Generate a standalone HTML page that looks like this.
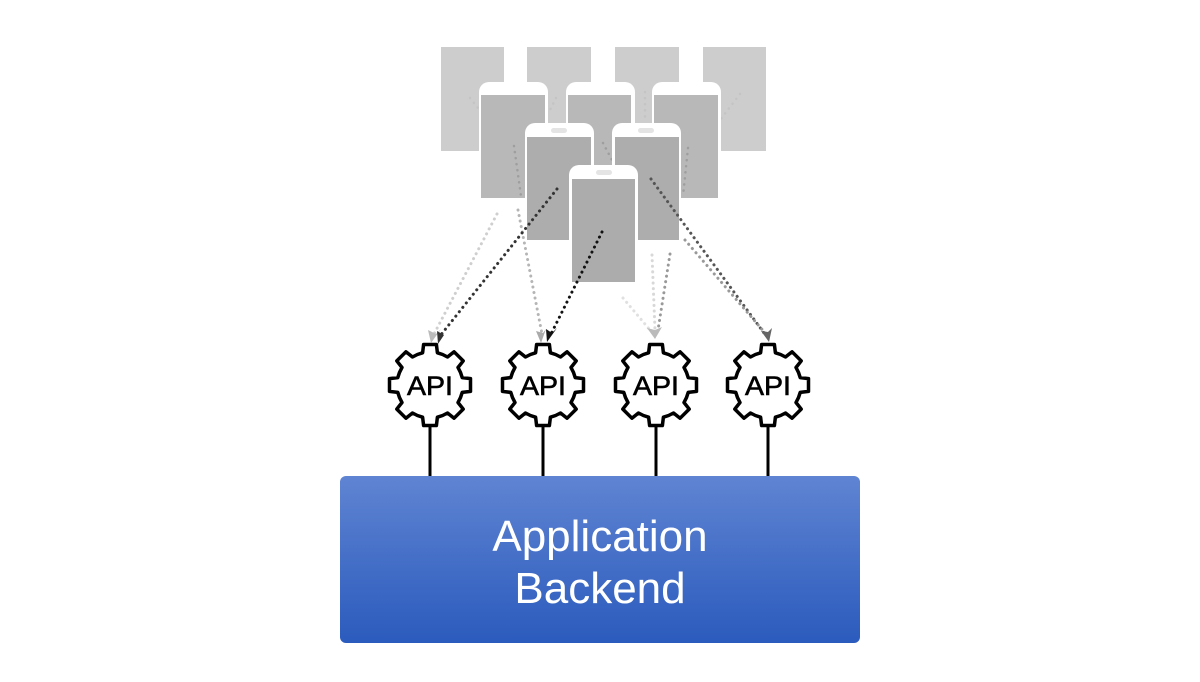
<!DOCTYPE html>
<html><head><meta charset="utf-8"><style>
html,body{margin:0;padding:0;background:#fff;width:1200px;height:682px;overflow:hidden}
</style></head><body>
<svg width="1200" height="682" viewBox="0 0 1200 682" xmlns="http://www.w3.org/2000/svg">
<defs>
<linearGradient id="g" x1="0" y1="0" x2="0" y2="1"><stop offset="0" stop-color="#5f84d2"/><stop offset="1" stop-color="#2b5bbd"/></linearGradient>
</defs>
<g fill="#cdcdcd">
<rect x="441" y="47" width="63" height="104"/><rect x="527" y="47" width="64" height="104"/>
<rect x="615" y="47" width="64" height="104"/><rect x="703" y="47" width="63" height="104"/>
</g>
<g stroke="#c4c4c4" stroke-width="2.5" stroke-dasharray="0.1 6" stroke-linecap="round" fill="none">
<line x1="470" y1="98" x2="478" y2="108"/><line x1="556" y1="98" x2="550" y2="110"/>
<line x1="645" y1="92" x2="645" y2="120"/><line x1="740" y1="94" x2="720" y2="120"/>
</g>
<g>
<path d="M479 199 V92 a10 10 0 0 1 10 -10 h49 a10 10 0 0 1 10 10 V199 Z" fill="#fff"/>
<rect x="481" y="95" width="64" height="103" fill="#b8b8b8"/>
<path d="M566 199 V92 a10 10 0 0 1 10 -10 h49 a10 10 0 0 1 10 10 V199 Z" fill="#fff"/>
<rect x="568" y="95" width="63" height="103" fill="#b8b8b8"/>
<path d="M652 199 V92 a10 10 0 0 1 10 -10 h49 a10 10 0 0 1 10 10 V199 Z" fill="#fff"/>
<rect x="654" y="95" width="64" height="103" fill="#b8b8b8"/>
</g>
<g stroke="#9e9e9e" stroke-width="2.5" stroke-dasharray="0.1 6" stroke-linecap="round" fill="none">
<line x1="514" y1="146" x2="521" y2="196"/><line x1="603" y1="143" x2="612" y2="160"/>
<line x1="688" y1="148" x2="683" y2="196"/>
</g>
<g>
<path d="M525 241 V133 a10 10 0 0 1 10 -10 h49 a10 10 0 0 1 10 10 V241 Z" fill="#fff"/>
<rect x="527" y="137" width="64" height="103" fill="#adadad"/>
<rect x="551" y="128" width="16" height="5" rx="2.5" fill="#e4e4e4"/>
<path d="M612 241 V133 a10 10 0 0 1 10 -10 h49 a10 10 0 0 1 10 10 V241 Z" fill="#fff"/>
<rect x="615" y="137" width="64" height="103" fill="#adadad"/>
<rect x="638" y="128" width="16" height="5" rx="2.5" fill="#e4e4e4"/>
</g>
<path d="M569 283 V175 a10 10 0 0 1 10 -10 h49 a10 10 0 0 1 10 10 V283 Z" fill="#fff"/>
<rect x="572" y="179" width="63" height="103" fill="#acacac"/>
<rect x="596" y="170" width="16" height="5" rx="2.5" fill="#e4e4e4"/>
<g stroke-width="3" stroke-dasharray="0.1 5.5" stroke-linecap="round" fill="none">
<line x1="497" y1="214" x2="434" y2="334" stroke="#cfcfcf"/>
<line x1="518" y1="210" x2="542" y2="334" stroke="#b5b5b5"/>
<line x1="557" y1="189" x2="440" y2="336" stroke="#333"/>
<line x1="602" y1="232" x2="551" y2="334" stroke="#111"/>
<line x1="652" y1="255" x2="655" y2="330" stroke="#d8d8d8"/>
<line x1="670" y1="254" x2="658" y2="330" stroke="#999"/>
<line x1="623" y1="298" x2="650" y2="330" stroke="#e0e0e0"/>
<line x1="651" y1="179" x2="764" y2="333" stroke="#555"/>
<line x1="685" y1="240" x2="766" y2="334" stroke="#999"/>
</g>
<g>
<polygon points="431,343 428,330 436,334 441,329" fill="#bbb"/>
<polygon points="438,344 437,331 444,335 448,329" fill="#333"/>
<polygon points="541,343 536,331 543,333 546,329" fill="#aaa"/>
<polygon points="547,342 546,329 552,333 557,328" fill="#111"/>
<polygon points="655,339 647,328 655,330 662,327" fill="#bbb"/>
<polygon points="769,342 761,331 768,332 772,328" fill="#666"/>
</g>
<g id="gears" fill="#fff" stroke="#000" stroke-width="3.5" stroke-linejoin="round"></g>
<g stroke="#000" stroke-width="3">
<line x1="430" y1="425" x2="430" y2="477"/><line x1="543" y1="425" x2="543" y2="477"/>
<line x1="656" y1="425" x2="656" y2="477"/><line x1="768" y1="425" x2="768" y2="477"/>
</g>
<g font-family="Liberation Sans, sans-serif" font-size="27" text-anchor="middle" fill="#000" stroke="#000" stroke-width="0.6">
<text x="430" y="395" textLength="46" lengthAdjust="spacingAndGlyphs">API</text><text x="543" y="395" textLength="46" lengthAdjust="spacingAndGlyphs">API</text><text x="656" y="395" textLength="46" lengthAdjust="spacingAndGlyphs">API</text><text x="768" y="395" textLength="46" lengthAdjust="spacingAndGlyphs">API</text>
</g>
<rect x="340" y="476" width="520" height="167" rx="6" fill="url(#g)"/>
<g font-family="Liberation Sans, sans-serif" font-size="44" fill="#fff" text-anchor="middle">
<text x="600" y="551">Application</text><text x="600" y="603">Backend</text>
</g>
</svg>
<script>
(function(){
var cs=[430,543,656,768],cy=385,ro=41,ri=33,g=document.getElementById('gears');
cs.forEach(function(cx){
 var pts=[];
 for(var i=0;i<8;i++){
  var a=(i*45-90)*Math.PI/180,w1=9*Math.PI/180,w2=13*Math.PI/180,w3=22.5*Math.PI/180;
  pts.push([cx+ri*Math.cos(a-w2),cy+ri*Math.sin(a-w2)]);
  pts.push([cx+ro*Math.cos(a-w1),cy+ro*Math.sin(a-w1)]);
  pts.push([cx+ro*Math.cos(a+w1),cy+ro*Math.sin(a+w1)]);
  pts.push([cx+ri*Math.cos(a+w2),cy+ri*Math.sin(a+w2)]);
  pts.push([cx+ri*Math.cos(a+w3),cy+ri*Math.sin(a+w3)]);
 }
 var p=document.createElementNS('http://www.w3.org/2000/svg','polygon');
 p.setAttribute('points',pts.map(function(q){return q[0].toFixed(1)+','+q[1].toFixed(1)}).join(' '));
 g.appendChild(p);
});
})();
</script>
</body></html>
